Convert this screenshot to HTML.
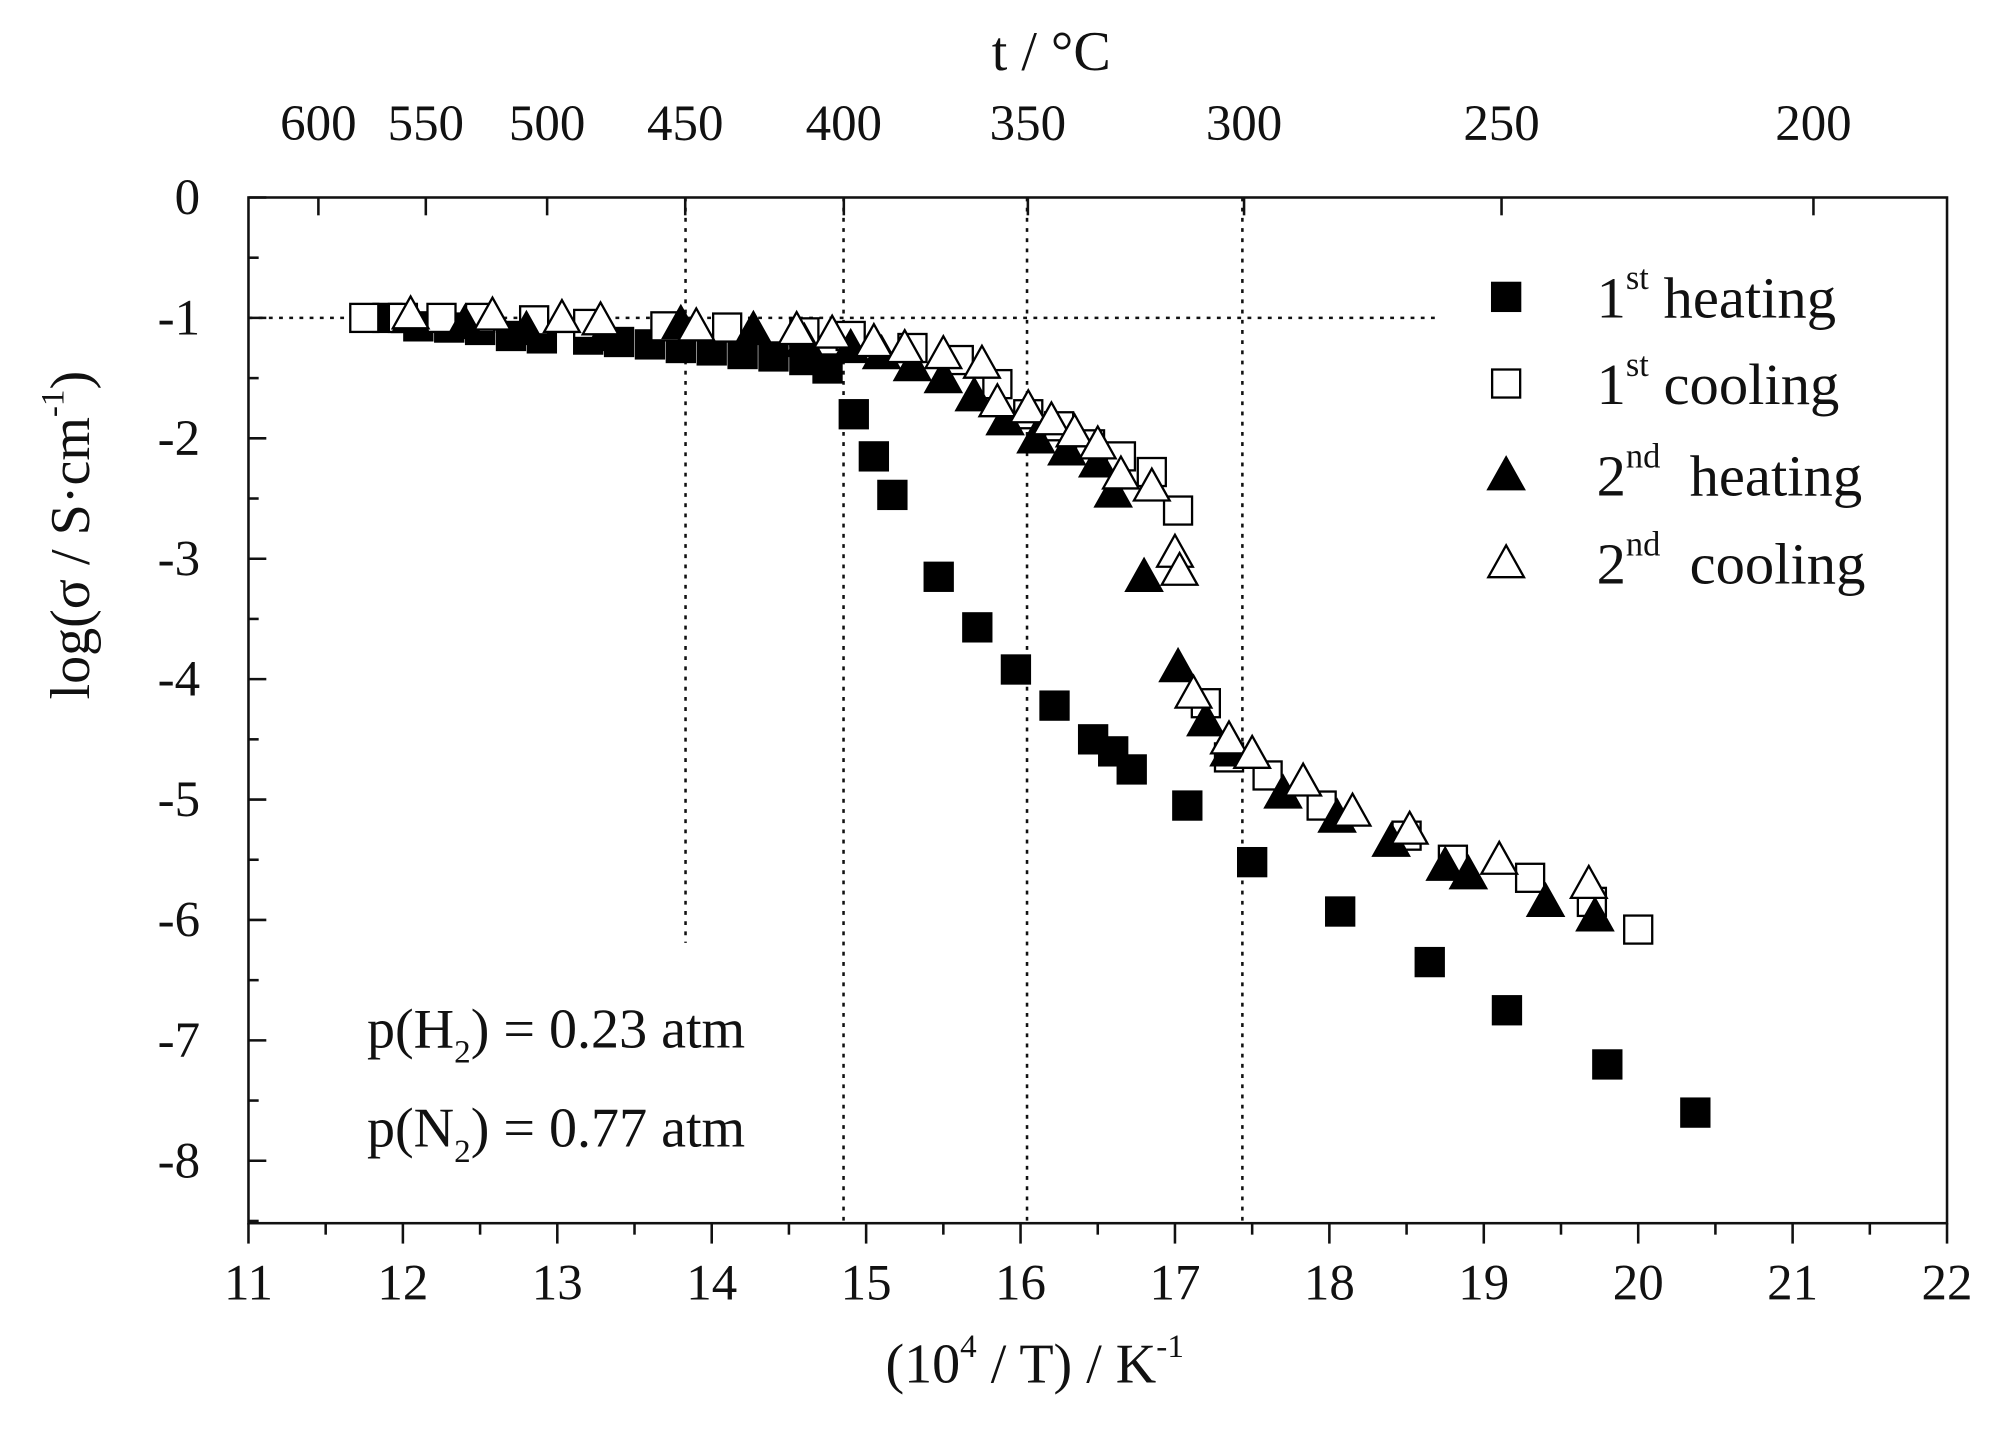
<!DOCTYPE html>
<html><head><meta charset="utf-8"><style>
html,body{margin:0;padding:0;background:#fff;}
svg{display:block;}
text{font-family:"Liberation Serif",serif;fill:#111;}
</style></head><body>
<svg id="chart" width="1998" height="1450" viewBox="0 0 1568 1138" preserveAspectRatio="none" xmlns="http://www.w3.org/2000/svg">
<g id="grid"></g>
<g id="axes"></g>
<g id="marks"></g>
<g id="legend"></g>
<text x="160" y="740" font-size="44" transform="rotate(-90 62 555)"></text>
</svg>
<script>
const xTicks=[11,12,13,14,15,16,17,18,19,20,21,22];
const yTicks=[0,-1,-2,-3,-4,-5,-6,-7,-8];
const topTemps=[600,550,500,450,400,350,300,250,200];
const heat1X=[11.9,12.1,12.3,12.5,12.7,12.9,13.2,13.4,13.6,13.8,14.0,14.2,14.4,14.6,14.75,14.92,15.05,15.17,15.47,15.72,15.97,16.22,16.47,16.6,16.72,17.08,17.5,18.07,18.65,19.15,19.8,20.37];
const heat1Y=[-1.0,-1.07,-1.08,-1.1,-1.15,-1.17,-1.18,-1.2,-1.22,-1.25,-1.27,-1.3,-1.32,-1.35,-1.42,-1.8,-2.15,-2.47,-3.15,-3.57,-3.92,-4.22,-4.5,-4.6,-4.75,-5.05,-5.52,-5.93,-6.35,-6.75,-7.2,-7.6];
const cool1X=[11.75,12.0,12.25,12.5,12.85,13.2,13.7,14.1,14.6,14.9,15.3,15.6,15.85,16.05,16.25,16.45,16.65,16.85,17.02,17.2,17.35,17.6,17.95,18.5,18.8,19.3,19.7,20.0];
const cool1Y=[-1.0,-1.0,-1.0,-1.0,-1.02,-1.05,-1.07,-1.08,-1.12,-1.15,-1.25,-1.35,-1.55,-1.8,-1.9,-2.05,-2.15,-2.28,-2.6,-4.2,-4.65,-4.8,-5.05,-5.3,-5.5,-5.65,-5.85,-6.08];
const heat2X=[12.05,12.4,12.8,13.3,13.8,14.27,14.6,14.9,15.1,15.3,15.5,15.7,15.9,16.1,16.3,16.5,16.6,16.8,17.02,17.2,17.35,17.7,18.05,18.4,18.75,18.9,19.4,19.72];
const heat2Y=[-1.0,-1.05,-1.1,-1.15,-1.05,-1.1,-1.2,-1.25,-1.3,-1.4,-1.5,-1.65,-1.85,-2.0,-2.1,-2.2,-2.45,-3.15,-3.9,-4.35,-4.6,-4.95,-5.15,-5.35,-5.55,-5.62,-5.85,-5.97];
const cool2X=[12.05,12.58,13.03,13.28,13.9,14.55,14.78,15.05,15.25,15.5,15.75,15.85,16.05,16.2,16.35,16.5,16.65,16.85,17.0,17.03,17.12,17.35,17.5,17.83,18.15,18.52,19.1,19.68];
const cool2Y=[-0.97,-0.98,-1.0,-1.02,-1.07,-1.1,-1.13,-1.2,-1.25,-1.3,-1.38,-1.7,-1.75,-1.85,-1.95,-2.05,-2.3,-2.4,-2.95,-3.1,-4.12,-4.5,-4.62,-4.85,-5.1,-5.25,-5.5,-5.7];

const NS="http://www.w3.org/2000/svg";
const L=195,R=1528,T=155,B=960;
const sx=v=>L+(v-11)*(R-L)/11;
const sy=v=>T-v*94.5;
function mk(tag,attrs,parent){const e=document.createElementNS(NS,tag);for(const k in attrs)e.setAttribute(k,attrs[k]);parent.appendChild(e);return e;}
const axes=document.getElementById('axes'),grid=document.getElementById('grid'),marks=document.getElementById('marks'),legend=document.getElementById('legend');

let frame=mk('rect',{x:L,y:T,width:R-L,height:B-T,fill:'none',stroke:'#111','stroke-width':2},axes);



// bottom ticks
xTicks.forEach(v=>{
  mk('line',{x1:sx(v),x2:sx(v),y1:B,y2:B+16,stroke:'#111','stroke-width':2},axes);
  if(v<22) mk('line',{x1:sx(v+0.5),x2:sx(v+0.5),y1:B,y2:B+9,stroke:'#111','stroke-width':2},axes);
  const t=mk('text',{x:sx(v),y:B+60,'font-size':40,'text-anchor':'middle'},axes);t.textContent=v;
  
  
});
// left ticks
yTicks.forEach(v=>{
  mk('line',{x1:L,x2:L+14,y1:sy(v),y2:sy(v),stroke:'#111','stroke-width':2},axes);
  mk('line',{x1:L,x2:L+8,y1:sy(v-0.5),y2:sy(v-0.5),stroke:'#111','stroke-width':2},axes);
  const t=mk('text',{x:L-38,y:sy(v)+13,'font-size':40,'text-anchor':'end'},axes);t.textContent=v===0?'0':'-'+(-v);
  
  
});
// top temperature axis
topTemps.forEach(c=>{
  const x=sx(1e4/(c+273.15));
  mk('line',{x1:x,x2:x,y1:T,y2:T+14,stroke:'#111','stroke-width':2},axes);
  const t=mk('text',{x:x,y:110,'font-size':40,'text-anchor':'middle'},axes);t.textContent=c;
  
  
});
let tt=mk('text',{x:825,y:55,'font-size':44,'text-anchor':'middle'},axes);tt.textContent='t / °C';


let xt=mk('text',{x:812,y:1085,'font-size':44,'text-anchor':'middle'},axes);
xt.innerHTML='(10<tspan font-size="26" dy="-20">4</tspan><tspan dy="20"> / T) / K</tspan><tspan font-size="26" dy="-20">-1</tspan>';


let yt=mk('text',{x:0,y:0,'font-size':44,'text-anchor':'middle',transform:'translate(70 420) rotate(-90)'},axes);
yt.innerHTML='log(σ / S·cm<tspan font-size="26" dy="-20">-1</tspan><tspan dy="20">)</tspan>';


document.querySelector('svg > text').remove();

// dotted reference lines
[[538,740],[662,960],[806,960],[975,960]].forEach(([x,y2])=>{
  mk('line',{x1:x,x2:x,y1:T,y2:y2,stroke:'#111','stroke-width':2,'stroke-dasharray':'3,5'},grid);
});
mk('line',{x1:L,x2:1130,y1:sy(-1),y2:sy(-1),stroke:'#111','stroke-width':2,'stroke-dasharray':'3,5'},grid);

// annotations
let a1=mk('text',{x:288,y:822,'font-size':44},axes);
a1.innerHTML='p(H<tspan font-size="26" dy="12">2</tspan><tspan dy="-12">) = 0.23 atm</tspan>';


let a2=mk('text',{x:288,y:900,'font-size':44},axes);
a2.innerHTML='p(N<tspan font-size="26" dy="12">2</tspan><tspan dy="-12">) = 0.77 atm</tspan>';



function square(x,y,filled,parent){
  return mk('rect',{x:x-11,y:y-11,width:22,height:22,fill:filled?'#000':'#fff',stroke:'#000','stroke-width':1.8},parent);
}
function tri(x,y,filled,parent){
  return mk('polygon',{points:`${x},${y-14} ${x-14},${y+11} ${x+14},${y+11}`,fill:filled?'#000':'#fff',stroke:'#000','stroke-width':1.8},parent);
}
function series(xs,ys,shape,filled,name){
  const g=mk('g',{},marks);
  
  
  xs.forEach((v,i)=>{
    const m=shape(sx(v),sy(ys[i]),filled,g);
    
    
  });
}
series(heat1X,heat1Y,square,true,'first-heating-series');
series(cool1X,cool1Y,square,false,'first-cooling-series');
series(heat2X,heat2Y,tri,true,'second-heating-series');
series(cool2X,cool2Y,tri,false,'second-cooling-series');

// legend
const lg=[[square,true,'1','st',' heating',233],[square,false,'1','st',' cooling',301],[tri,true,'2','nd','  heating',373],[tri,false,'2','nd','  cooling',442]];
lg.forEach(([sh,f,n,sup,rest,y])=>{
  const m=sh(1182,y,f,legend);
  
  
  const t=mk('text',{x:1253,y:y+16,'font-size':46,'xml:space':'preserve'},legend);
  t.innerHTML=n+'<tspan font-size="27" dy="-22">'+sup+'</tspan><tspan dy="22" xml:space="preserve">'+rest+'</tspan>';
  
  
});
</script>
</body></html>
